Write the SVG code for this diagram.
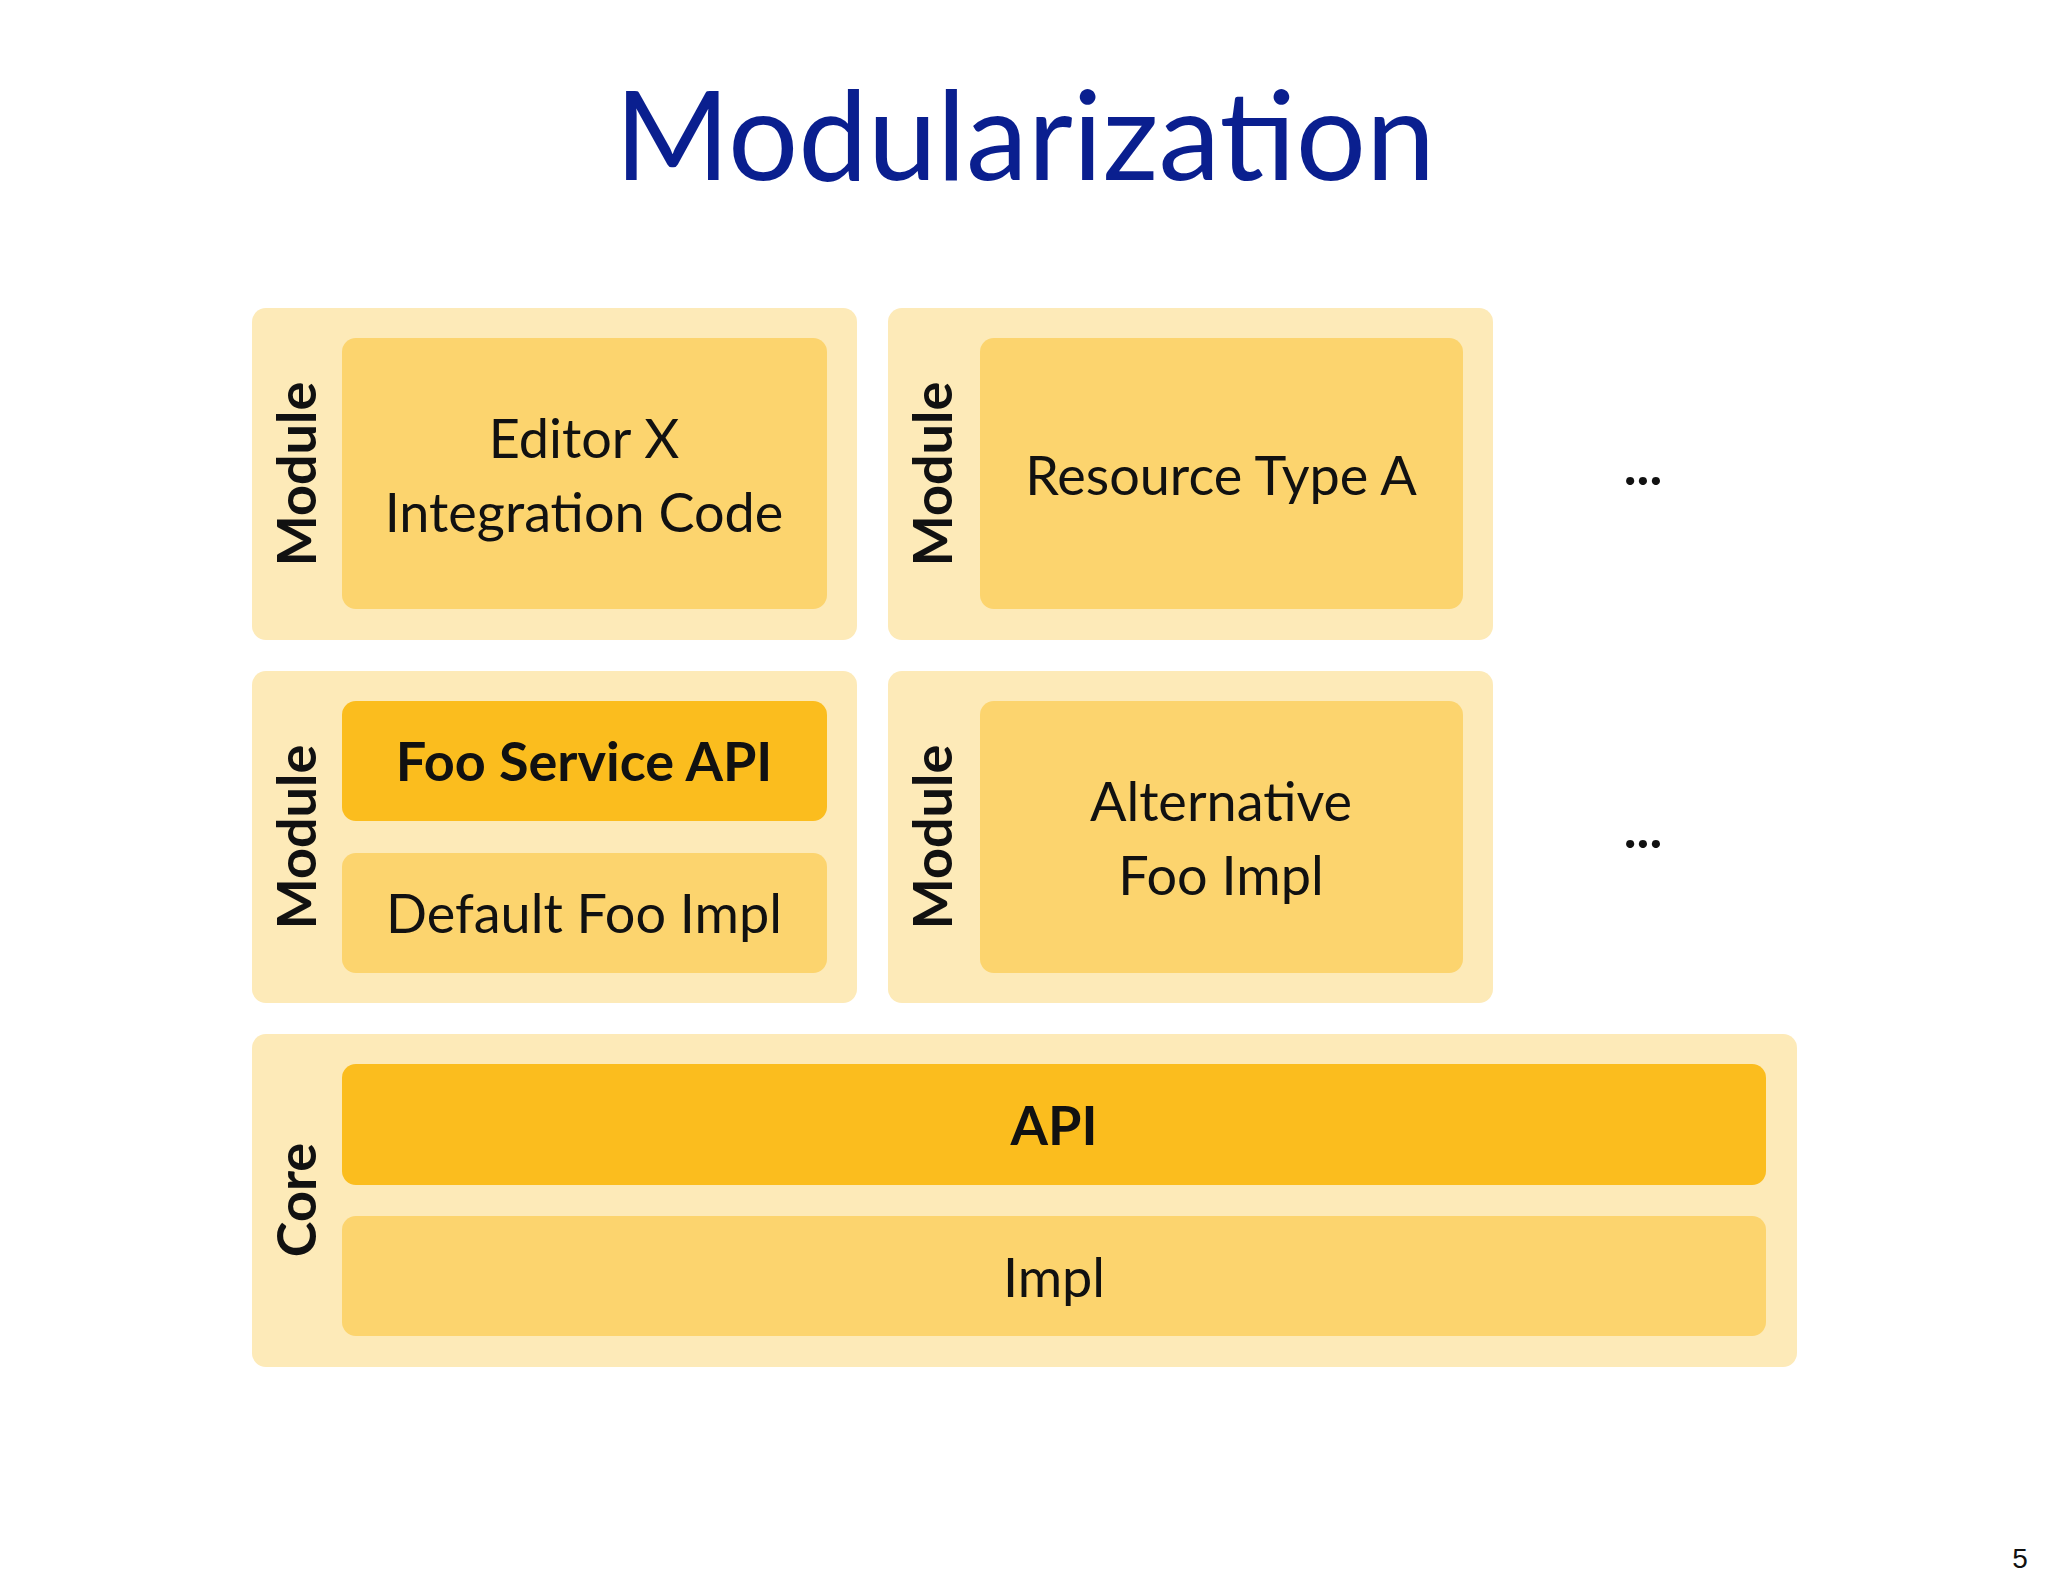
<svg xmlns="http://www.w3.org/2000/svg" width="2048" height="1587" viewBox="0 0 2048 1587">
<style>
.o{fill:#fdeab8}
.i{fill:#fcd46e}
.d{fill:#fbbd1e}
text{font-family:Lato,"Open Sans",sans-serif;fill:#111}
.t{font-size:54px;text-anchor:middle}
.b{font-size:54px;font-weight:bold;text-anchor:middle}
.v{font-size:54px;font-weight:bold;text-anchor:middle}
.dots{font-size:54px;font-weight:bold;text-anchor:middle}
</style>
<rect width="2048" height="1587" fill="#fff"/>
<text x="1025" y="180" style="font-size:124px;text-anchor:middle;fill:#0a1f8f">Modularization</text>
<g id="m1"><rect class="o" x="252" y="308" width="605" height="332" rx="14"/><rect class="i" x="342" y="338" width="485" height="271" rx="14"/>
<text class="v" transform="translate(316,474) rotate(-90)">Module</text>
<text class="t" x="584" y="458">Editor X</text><text class="t" x="584" y="532">Integration Code</text></g>
<g id="m2"><rect class="o" x="888" y="308" width="605" height="332" rx="14"/><rect class="i" x="980" y="338" width="483" height="271" rx="14"/>
<text class="v" transform="translate(952,474) rotate(-90)">Module</text>
<text class="t" x="1221" y="495">Resource Type A</text></g>
<g id="m3"><rect class="o" x="252" y="671" width="605" height="332" rx="14"/>
<rect class="d" x="342" y="701" width="485" height="120" rx="14"/><rect class="i" x="342" y="853" width="485" height="120" rx="14"/>
<text class="v" transform="translate(316,837) rotate(-90)">Module</text>
<text class="b" x="584" y="781">Foo Service API</text><text class="t" x="584" y="933">Default Foo Impl</text></g>
<g id="m4"><rect class="o" x="888" y="671" width="605" height="332" rx="14"/><rect class="i" x="980" y="701" width="483" height="272" rx="14"/>
<text class="v" transform="translate(952,837) rotate(-90)">Module</text>
<text class="t" x="1221" y="821">Alternative</text><text class="t" x="1221" y="895">Foo Impl</text></g>
<g id="core"><rect class="o" x="252" y="1034" width="1545" height="333" rx="14"/>
<rect class="d" x="342" y="1064" width="1424" height="121" rx="14"/><rect class="i" x="342" y="1216" width="1424" height="120" rx="14"/>
<text class="v" transform="translate(316,1200) rotate(-90)">Core</text>
<text class="b" x="1054" y="1145">API</text><text class="t" x="1054" y="1297">Impl</text></g>
<g id="dots"><text class="dots" x="1643" y="485">...</text><text class="dots" x="1643" y="848">...</text></g>
<g id="connectors"/>
<text x="2020" y="1568" style="font-size:28px;font-family:'Liberation Sans',sans-serif;text-anchor:middle">5</text>
</svg>
